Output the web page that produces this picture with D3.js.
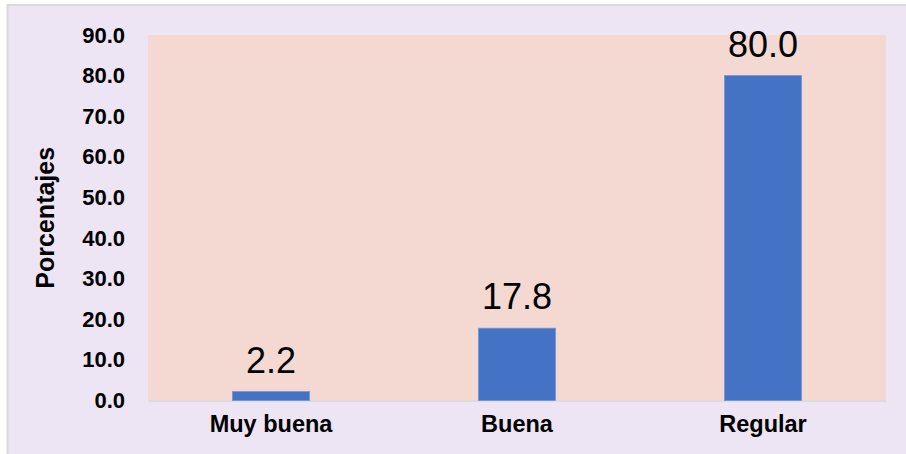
<!DOCTYPE html>
<html>
<head>
<meta charset="utf-8">
<script src="https://cdn.jsdelivr.net/npm/d3@7"></script>
<style>
  body { margin: 0; background: #fff; }
  svg { display: block; font-family: Arial, "Liberation Sans", sans-serif; }
</style>
</head>
<body>
<svg id="chart" width="906" height="454"></svg>
<script>
// datos del grafico
const categorias = ['Muy buena', 'Buena', 'Regular'];
const porcentajes = [2.2, 17.8, 80.0];
const ticksY = [0, 10, 20, 30, 40, 50, 60, 70, 80, 90];

const W = 906, H = 454;
const margin = { top: 35, right: 20, bottom: 53.5, left: 148 };

const svg = d3.select('#chart');

// fondo exterior con borde gris
svg.append('rect')
  .attr('x', 7.5).attr('y', 5)
  .attr('width', W).attr('height', H)
  .attr('fill', '#ede4f4')
  .attr('stroke', '#d9d9d9')
  .attr('stroke-width', 2);

const x = d3.scaleBand()
  .domain(categorias)
  .range([margin.left, W - margin.right])
  .paddingInner(0.687)
  .paddingOuter(0.3435);

const y = d3.scaleLinear()
  .domain([0, 90])
  .range([H - margin.bottom, margin.top]);

// area del grafico
svg.append('rect')
  .attr('x', margin.left).attr('y', y(90))
  .attr('width', W - margin.right - margin.left)
  .attr('height', y(0) - y(90))
  .attr('fill', '#f4d9d3');

// eje Y
const ejeY = svg.append('g')
  .attr('transform', `translate(${margin.left},0)`)
  .call(d3.axisLeft(y).tickValues(ticksY).tickFormat(d3.format('.1f')).tickSize(0).tickPadding(23));
ejeY.select('.domain').remove();
ejeY.selectAll('text')
  .attr('font-size', 22)
  .attr('font-weight', 'bold')
  .attr('fill', '#000')
  .attr('font-family', 'Arial, "Liberation Sans", sans-serif');

// eje X
const ejeX = svg.append('g')
  .attr('transform', `translate(0,${y(0)})`)
  .call(d3.axisBottom(x).tickSize(0).tickPadding(15));
ejeX.select('.domain').attr('stroke', '#d9d9d9').attr('stroke-width', 1.5);
ejeX.selectAll('text')
  .attr('font-size', 23.5)
  .attr('font-weight', 'bold')
  .attr('fill', '#000')
  .attr('font-family', 'Arial, "Liberation Sans", sans-serif');

// barras
svg.selectAll('.barra')
  .data(porcentajes)
  .join('rect')
  .attr('class', 'barra')
  .attr('x', (d, i) => x(categorias[i]))
  .attr('y', (d) => y(d))
  .attr('width', x.bandwidth())
  .attr('height', (d) => y(0) - y(d))
  .attr('fill', '#4472c4')
  .attr('stroke', '#6f93d3')
  .attr('stroke-width', 0.8);

// etiquetas de valores
svg.selectAll('.valor')
  .data(porcentajes)
  .join('text')
  .attr('class', 'valor')
  .attr('x', (d, i) => x(categorias[i]) + x.bandwidth() / 2)
  .attr('y', (d) => y(d) - 19)
  .attr('text-anchor', 'middle')
  .attr('font-size', 36)
  .attr('fill', '#000')
  .text((d) => d.toFixed(1));

// titulo del eje Y
svg.append('text')
  .attr('transform', `translate(54,${(y(0) + y(90)) / 2}) rotate(-90)`)
  .attr('text-anchor', 'middle')
  .attr('font-size', 25)
  .attr('font-weight', 'bold')
  .attr('fill', '#000')
  .text('Porcentajes');
</script>
</body>
</html>
